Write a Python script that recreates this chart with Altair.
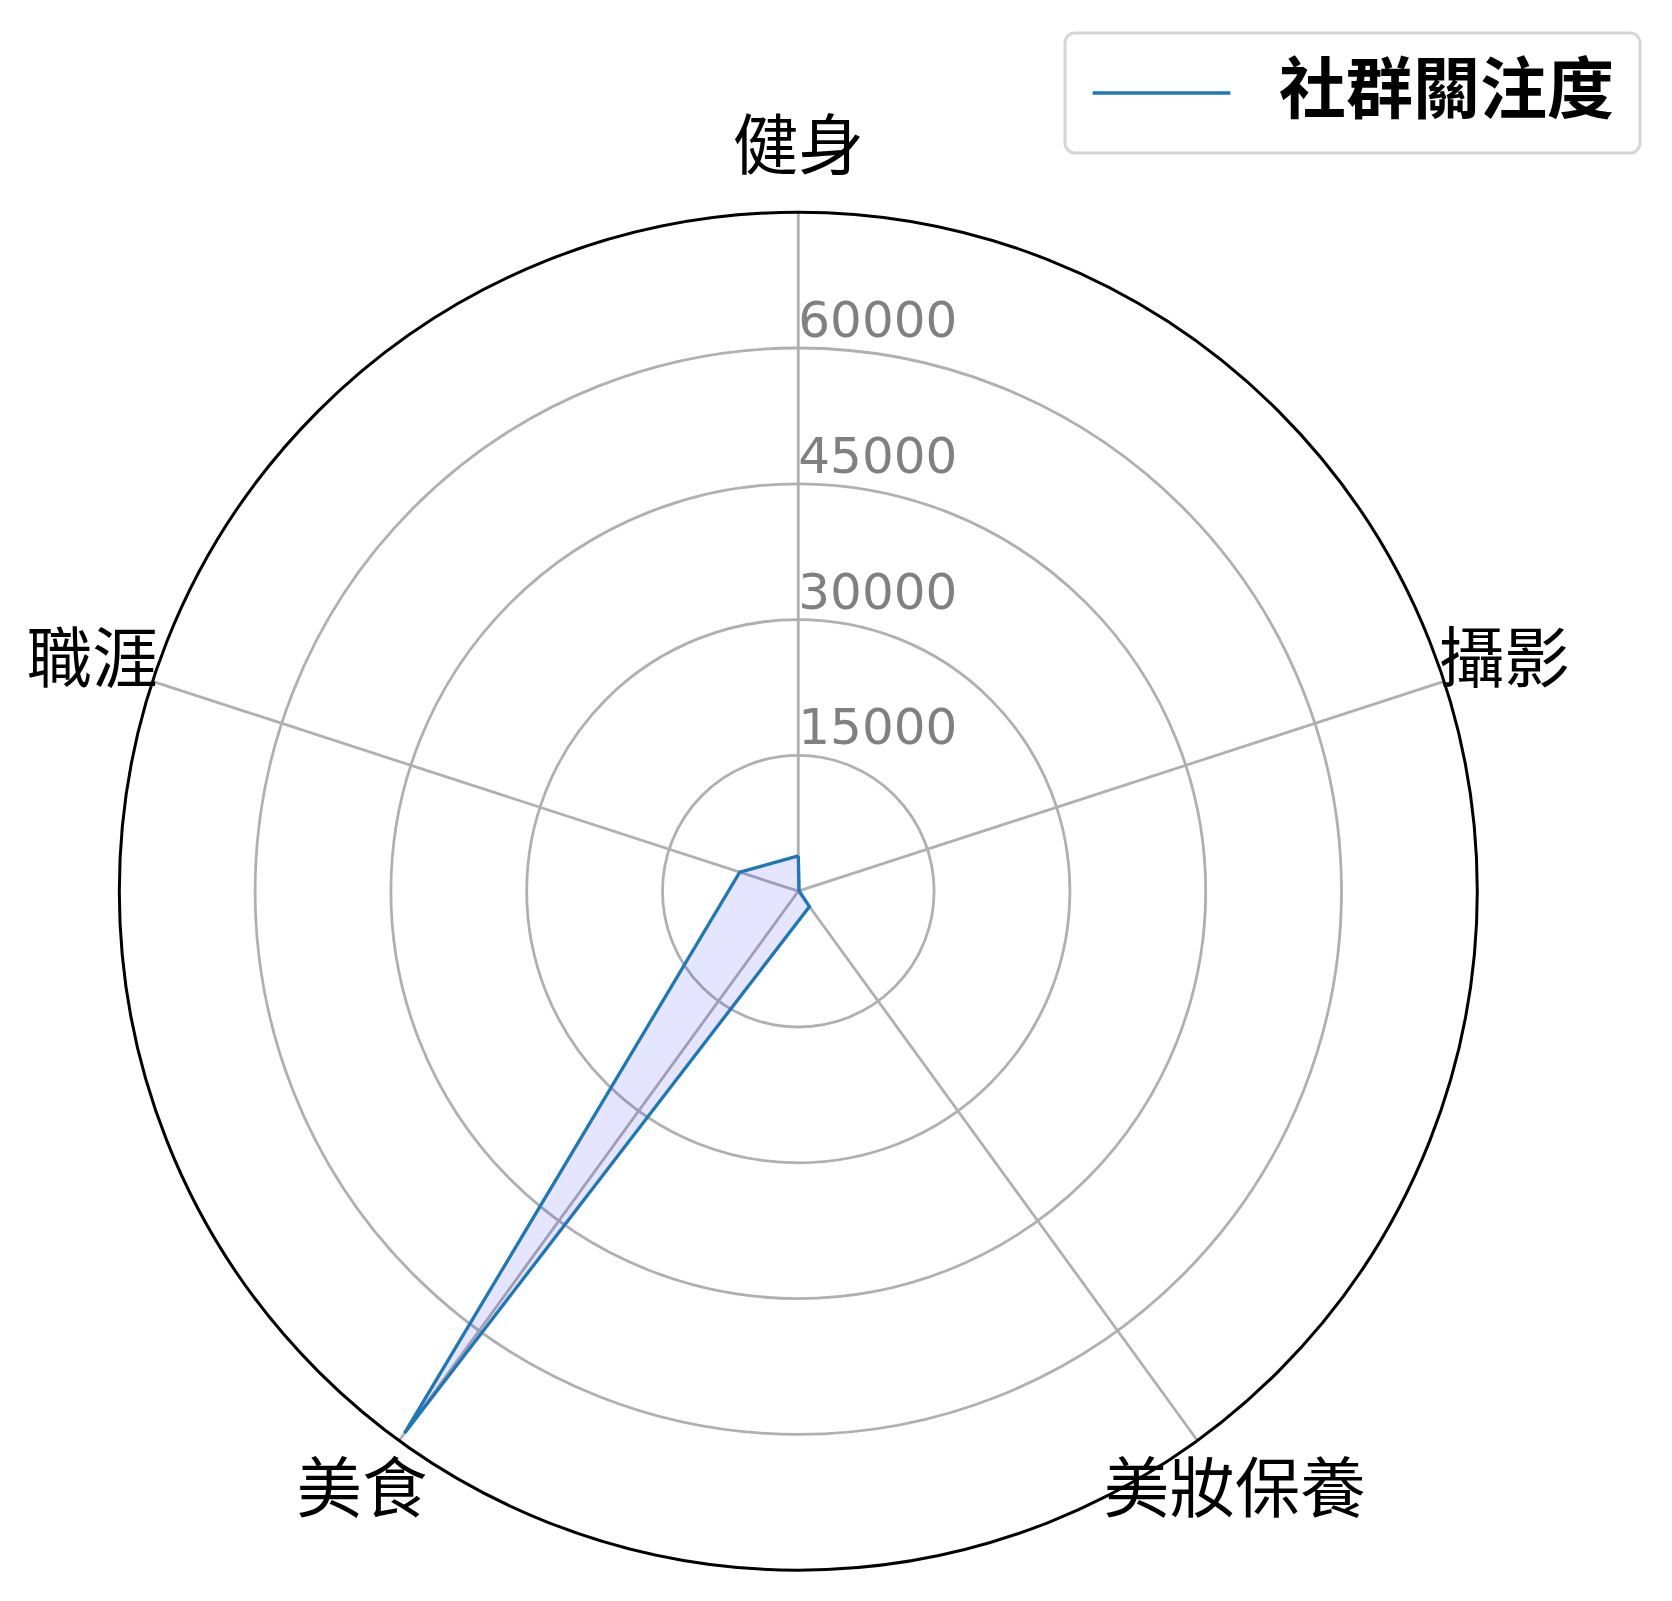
import math
import altair as alt
import pandas as pd

# ---------------- data ----------------
categories = ["健身", "攝影", "美妝保養", "美食", "職涯"]
values = [3900, 100, 2100, 74000, 6800]
ring_values = [15000, 30000, 45000, 60000]
ring_labels = ["15000", "30000", "45000", "60000"]
r_max = 75000
series_name = "社群關注度"

# ---------------- layout ----------------
W, H = 1672, 1601
CX, CY = 798.3, 891.2
R_PX = 679.0
k = r_max / R_PX
x_dom = [-CX * k, (W - CX) * k]
y_dom = [-(H - CY) * k, CY * k]
N = len(categories)
LABEL_R = 82000

xs = alt.Scale(domain=x_dom, range=[0, W], nice=False, zero=False)
ys = alt.Scale(domain=y_dom, range=[H, 0], nice=False, zero=False)
rs = alt.Scale(type="linear", domain=[0, r_max], range=[0, R_PX], zero=True)

cat_df = pd.DataFrame({"cat": categories, "idx": list(range(N)), "val": values})
poly_df = pd.DataFrame({
    "cat": categories + [categories[0]],
    "idx": list(range(N + 1)),
    "val": values + [values[0]],
    "series": [series_name] * (N + 1),
})
ring_df = pd.DataFrame({"r": ring_values, "lab": ring_labels})
outer_df = pd.DataFrame({"r": [r_max]})

ang = f"datum.idx * 2 * PI / {N}"

# grid rings
rings = alt.Chart(ring_df).mark_arc(
    theta=0, theta2=2 * math.pi, fill="transparent", stroke="#b0b0b0", strokeWidth=2.8
).encode(
    x=alt.X(datum=0, type="quantitative", scale=xs, axis=None),
    y=alt.Y(datum=0, type="quantitative", scale=ys, axis=None),
    radius=alt.Radius("r:Q", scale=rs, stack=None),
)

# spokes
spokes = alt.Chart(cat_df).transform_calculate(
    x0="0",
    y0="0",
    ex=f"{r_max} * sin({ang})",
    ey=f"{r_max} * cos({ang})",
).mark_rule(color="#b0b0b0", strokeWidth=2.8).encode(
    x=alt.X("x0:Q", scale=xs, axis=None),
    y=alt.Y("y0:Q", scale=ys, axis=None),
    x2="ex:Q",
    y2="ey:Q",
)

poly_base = alt.Chart(poly_df).transform_calculate(
    px=f"datum.val * sin({ang})",
    py=f"datum.val * cos({ang})",
)

poly_fill = poly_base.mark_line(
    fill="blue", fillOpacity=0.1, strokeOpacity=0, strokeWidth=0
).encode(
    x=alt.X("px:Q", scale=xs, axis=None),
    y=alt.Y("py:Q", scale=ys, axis=None),
    order="idx:Q",
)

poly_line = poly_base.mark_line(strokeWidth=3.3).encode(
    x=alt.X("px:Q", scale=xs, axis=None),
    y=alt.Y("py:Q", scale=ys, axis=None),
    order="idx:Q",
    color=alt.Color(
        "series:N",
        scale=alt.Scale(domain=[series_name], range=["#1f77b4"]),
        legend=alt.Legend(
            title=None,
            orient="none",
            legendX=1065,
            legendY=33,
            padding=26,
            strokeColor="#d6d6d6",
            cornerRadius=10,
            fillColor="white",
            symbolType="stroke",
            symbolSize=18934,
            symbolStrokeWidth=3.3,
            labelFontSize=67,
            labelFont="Noto Sans CJK TC",
            labelFontWeight="bold",
            labelColor="black",
            labelOffset=47,
            labelLimit=1000,
            clipHeight=68,
        ),
    ),
)

outer = alt.Chart(outer_df).mark_arc(
    theta=0, theta2=2 * math.pi, fill="transparent", stroke="black", strokeWidth=3
).encode(
    x=alt.X(datum=0, type="quantitative", scale=xs, axis=None),
    y=alt.Y(datum=0, type="quantitative", scale=ys, axis=None),
    radius=alt.Radius("r:Q", scale=rs, stack=None),
)

cat_labels = alt.Chart(cat_df).transform_calculate(
    lx=f"{LABEL_R} * sin({ang})",
    ly=f"{LABEL_R} * cos({ang})",
).mark_text(
    font="Noto Sans CJK TC", fontSize=65.5, color="black", align="center", baseline="middle"
).encode(
    x=alt.X("lx:Q", scale=xs, axis=None),
    y=alt.Y("ly:Q", scale=ys, axis=None),
    text="cat:N",
)

tick_labels = alt.Chart(ring_df).transform_calculate(
    x0="0"
).mark_text(
    font="DejaVu Sans", fontSize=50, color="#808080", align="left",
    baseline="alphabetic", dy=-11, dx=0
).encode(
    x=alt.X("x0:Q", scale=xs, axis=None),
    y=alt.Y("r:Q", scale=ys, axis=None),
    text="lab:N",
)

chart = alt.layer(
    rings, spokes, poly_fill, poly_line, outer, tick_labels, cat_labels
).properties(
    width=W, height=H, padding=0, autosize=alt.AutoSizeParams(type="none"),
    background="white",
).configure_view(stroke=None).configure_legend(strokeWidth=3)

chart.save("out.html", embed_options={"renderer": "svg", "actions": False})
